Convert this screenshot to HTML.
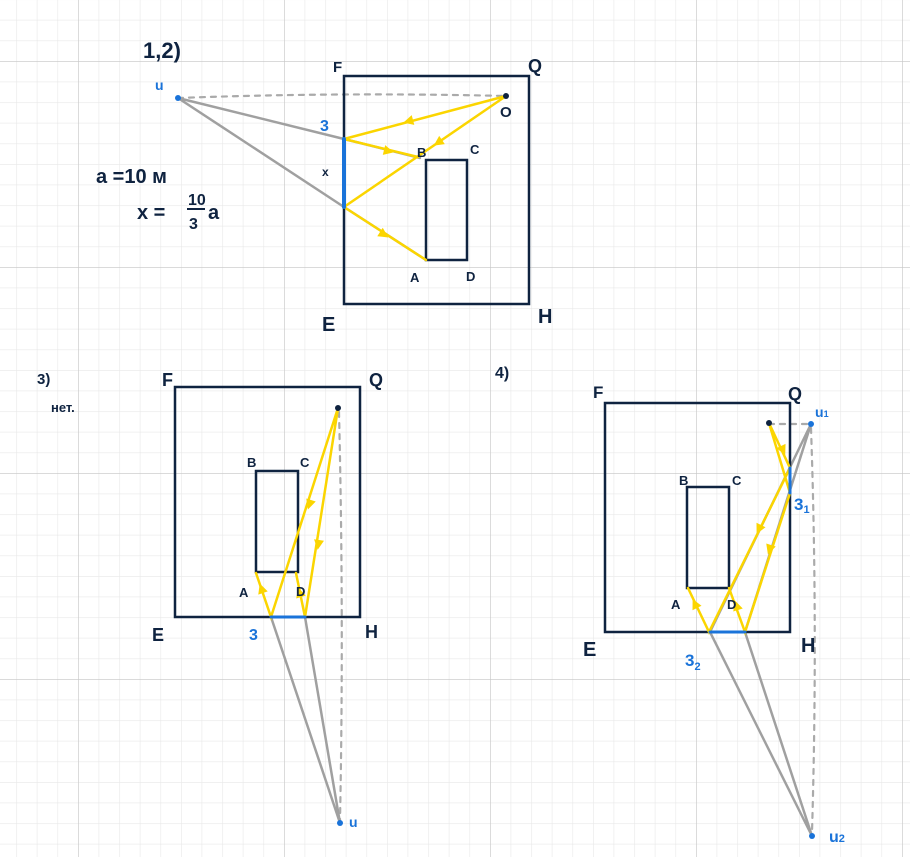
<!DOCTYPE html>
<html><head><meta charset="utf-8"><style>
html,body{margin:0;padding:0;background:#fff;}
svg{display:block;}
text{font-family:"Liberation Sans",sans-serif;font-weight:bold;}
</style></head><body>
<svg width="910" height="857" viewBox="0 0 910 857" xmlns="http://www.w3.org/2000/svg">
<defs>
<pattern id="mn" x="16.2" y="19.8" width="20.6" height="20.6" patternUnits="userSpaceOnUse">
<path d="M0 0H20.6M0 0V20.6" stroke="#e8e8e8" stroke-width="1.2" fill="none"/>
</pattern>
<pattern id="mj" x="78" y="61" width="206" height="206" patternUnits="userSpaceOnUse">
<path d="M0 0H206M0 0V206" stroke="#c6c6c6" stroke-width="1.2" fill="none"/>
</pattern>
</defs>
<rect width="910" height="857" fill="#fff"/>
<rect width="910" height="857" fill="url(#mn)"/>
<rect width="910" height="857" fill="url(#mj)"/>

<g fill="none" stroke-linecap="round">
<path d="M178 98 Q340 92 506 96" stroke="#aaa" stroke-width="2.2" stroke-dasharray="5 6"/>
<path d="M178 98 L344 139 L420 158 M178 98 L344 207 L426 260" stroke="#a0a0a0" stroke-width="2.5"/>
<rect x="344" y="76" width="185" height="228" stroke="#0f2340" stroke-width="2.5"/>
<rect x="426" y="160" width="41" height="100" stroke="#0f2340" stroke-width="2.5"/>
<path d="M506 96 L344 139 L418 157 M506 96 L344 207 L426 260" stroke="#fbd500" stroke-width="2.5"/>
<path d="M344 139 L344 207" stroke="#1a73d9" stroke-width="4"/>

<path d="M339 412 Q344 620 340 820" stroke="#aaa" stroke-width="2.2" stroke-dasharray="5 6"/>
<path d="M271 617 L340 823 M305 617 L340 823" stroke="#a0a0a0" stroke-width="2.5"/>
<rect x="175" y="387" width="185" height="230" stroke="#0f2340" stroke-width="2.5"/>
<rect x="256" y="471" width="42" height="101" stroke="#0f2340" stroke-width="2.5"/>
<path d="M338 408 L271 617 L256 573 M338 408 L305 617 L296 573" stroke="#fbd500" stroke-width="2.5"/>
<path d="M271 617 L305 617" stroke="#1a73d9" stroke-width="3"/>

<path d="M769 424 L811 424 M811 428 Q818 630 812 832" stroke="#aaa" stroke-width="2.2" stroke-dasharray="5 6"/>
<path d="M811 424 L710 632 L812 836 M811 424 L745 632 L812 836" stroke="#a0a0a0" stroke-width="2.5"/>
<rect x="605" y="403" width="185" height="229" stroke="#0f2340" stroke-width="2.5"/>
<rect x="687" y="487" width="42" height="101" stroke="#0f2340" stroke-width="2.5"/>
<path d="M769 423 L790 468 L709 632 L688 588 M769 423 L790 493 L745 632 L729 588" stroke="#fbd500" stroke-width="2.5"/>
<path d="M790 468 L790 493 M710 632 L745 632" stroke="#1a73d9" stroke-width="3"/>
</g>

<g fill="#fbd500">
<polygon points="0,-5 10,0 0,5" transform="translate(413,120) rotate(165)"/>
<polygon points="0,-5 10,0 0,5" transform="translate(384,150) rotate(14)"/>
<polygon points="0,-5 10,0 0,5" transform="translate(442,140) rotate(146)"/>
<polygon points="0,-5 10,0 0,5" transform="translate(380,232) rotate(33)"/>
<polygon points="0,-5 10,0 0,5" transform="translate(311,500) rotate(108)"/>
<polygon points="0,-5 10,0 0,5" transform="translate(319,540) rotate(98)"/>
<polygon points="0,-5 10,0 0,5" transform="translate(263,593) rotate(-109)"/>
<polygon points="0,-5 10,0 0,5" transform="translate(301,597) rotate(-107)"/>
<polygon points="0,-5 10,0 0,5" transform="translate(781,446) rotate(65)"/>
<polygon points="0,-5 10,0 0,5" transform="translate(761,525) rotate(116)"/>
<polygon points="0,-5 10,0 0,5" transform="translate(771,545) rotate(108)"/>
<polygon points="0,-5 10,0 0,5" transform="translate(697,608) rotate(-116)"/>
<polygon points="0,-5 10,0 0,5" transform="translate(738,610) rotate(-108)"/>
</g>

<g>
<circle cx="178" cy="98" r="3" fill="#1a73d9"/>
<circle cx="506" cy="96" r="3" fill="#0f2340"/>
<circle cx="338" cy="408" r="3" fill="#0f2340"/>
<circle cx="340" cy="823" r="3" fill="#1a73d9"/>
<circle cx="769" cy="423" r="3" fill="#0f2340"/>
<circle cx="811" cy="424" r="3" fill="#1a73d9"/>
<circle cx="812" cy="836" r="3" fill="#1a73d9"/>
</g>

<g fill="#0f2340" font-size="15">
<text x="143" y="58" font-size="22" font-weight="normal">1,2)</text>
<text x="96" y="183" font-size="20" font-weight="normal">a =10 м</text>
<text x="137" y="219" font-size="20" font-weight="normal">x =</text>
<text x="188" y="205" font-size="16">10</text>
<line x1="187" y1="209" x2="205" y2="209" stroke="#0f2340" stroke-width="2"/>
<text x="189" y="229" font-size="16">3</text>
<text x="208" y="219" font-size="20" font-weight="normal">a</text>
<text x="322" y="176" font-size="12">x</text>
<text x="333" y="72">F</text>
<text x="528" y="72" font-size="18">Q</text>
<text x="500" y="117">O</text>
<text x="417" y="157" font-size="13">B</text>
<text x="470" y="154" font-size="13">C</text>
<text x="410" y="282" font-size="13">A</text>
<text x="466" y="281" font-size="13">D</text>
<text x="322" y="331" font-size="20">E</text>
<text x="538" y="323" font-size="20">H</text>

<text x="37" y="384" font-size="15" font-weight="normal">3)</text>
<text x="51" y="412" font-size="13" font-weight="normal">нет.</text>
<text x="162" y="386" font-size="18">F</text>
<text x="369" y="386" font-size="18">Q</text>
<text x="247" y="467" font-size="13">B</text>
<text x="300" y="467" font-size="13">C</text>
<text x="239" y="597" font-size="13">A</text>
<text x="296" y="596" font-size="13">D</text>
<text x="152" y="641" font-size="18">E</text>
<text x="365" y="638" font-size="18">H</text>

<text x="495" y="378" font-size="16" font-weight="normal">4)</text>
<text x="593" y="398" font-size="17">F</text>
<text x="788" y="400" font-size="18">Q</text>
<text x="679" y="485" font-size="13">B</text>
<text x="732" y="485" font-size="13">C</text>
<text x="671" y="609" font-size="13">A</text>
<text x="727" y="609" font-size="13">D</text>
<text x="583" y="656" font-size="20">E</text>
<text x="801" y="652" font-size="20">H</text>
</g>
<g fill="#1a73d9">
<text x="155" y="90" font-size="14">u</text>
<text x="320" y="131" font-size="16">3</text>
<text x="249" y="640" font-size="16">3</text>
<text x="349" y="827" font-size="14">u</text>
<text x="815" y="417" font-size="14">u<tspan font-size="9">1</tspan></text>
<text x="794" y="510" font-size="17">3<tspan font-size="11" dy="3">1</tspan></text>
<text x="685" y="666" font-size="17">3<tspan font-size="11" dy="4">2</tspan></text>
<text x="829" y="842" font-size="16">u<tspan font-size="11">2</tspan></text>
</g>
</svg>
</body></html>
